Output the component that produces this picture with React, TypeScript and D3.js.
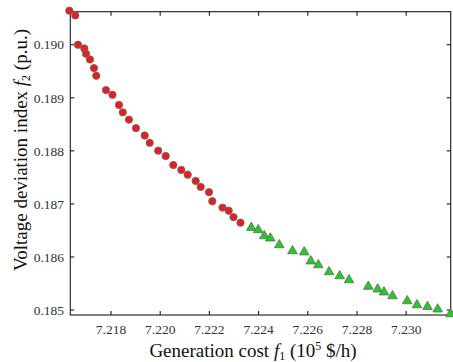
import React from "react";
import * as d3 from "d3";

const redX = [7.216305, 7.216549, 7.216659, 7.216915, 7.216984, 7.217146, 7.217309, 7.217402, 7.217797, 7.218061, 7.218325, 7.21848, 7.218732, 7.219016, 7.21937, 7.219573, 7.219919, 7.220224, 7.220533, 7.220858, 7.221118, 7.221443, 7.221646, 7.221984, 7.222118, 7.222533, 7.222785, 7.22298, 7.223264];
const redY = [0.190642, 0.190553, 0.19, 0.18993, 0.18983, 0.189723, 0.18956, 0.189415, 0.189145, 0.189057, 0.188864, 0.188726, 0.188589, 0.188428, 0.188289, 0.188151, 0.188004, 0.187902, 0.187732, 0.18764, 0.187551, 0.187434, 0.187321, 0.187221, 0.187051, 0.18693, 0.186872, 0.186751, 0.186647];
const greenX = [7.223703, 7.223984, 7.224232, 7.224476, 7.224841, 7.225378, 7.225854, 7.226122, 7.226427, 7.226862, 7.227297, 7.227675, 7.228459, 7.228841, 7.229098, 7.229443, 7.230041, 7.230439, 7.230866, 7.23128, 7.231801];
const greenY = [0.186553, 0.186509, 0.186396, 0.186353, 0.186226, 0.186113, 0.186091, 0.185921, 0.185849, 0.185717, 0.185642, 0.185566, 0.185443, 0.185392, 0.185336, 0.185264, 0.18517, 0.185094, 0.185062, 0.185015, 0.184925];
const xTicks = [7.218, 7.22, 7.222, 7.224, 7.226, 7.228, 7.23];
const yTicks = [0.185, 0.186, 0.187, 0.188, 0.189, 0.19];

const L = 70.3, R = 450.7, T = 11.7, B = 315;
const font = "'Liberation Serif', 'Times New Roman', serif";

export default function App() {
  const x = d3.scaleLinear().domain([7.216346, 7.231809]).range([L, R]);
  const y = d3.scaleLinear().domain([0.184906, 0.190623]).range([B, T]);
  const tri = d3.symbol().type(d3.symbolTriangle).size(40)();
  const tl = 4;
  return (
    <svg width={453} height={362} style={{ position: "absolute", left: 0, top: 0, background: "#fff" }}>
      <rect x={L} y={T} width={R - L} height={B - T} fill="none" stroke="#1a1a1a" strokeWidth={1.1} />
      {xTicks.map((t) => (
        <g key={"x" + t}>
          <line x1={x(t)} x2={x(t)} y1={B} y2={B - tl} stroke="#1a1a1a" strokeWidth={1.1} />
          <line x1={x(t)} x2={x(t)} y1={T} y2={T + tl} stroke="#1a1a1a" strokeWidth={1.1} />
          <text x={x(t)} y={334} textAnchor="middle" fontFamily={font} fontSize={13.5} fill="#333">
            {d3.format(".3f")(t)}
          </text>
        </g>
      ))}
      {yTicks.map((t) => (
        <g key={"y" + t}>
          <line x1={L} x2={L + tl} y1={y(t)} y2={y(t)} stroke="#1a1a1a" strokeWidth={1.1} />
          <line x1={R} x2={R - tl} y1={y(t)} y2={y(t)} stroke="#1a1a1a" strokeWidth={1.1} />
          <text x={64} y={y(t)} dy="0.35em" textAnchor="end" fontFamily={font} fontSize={13.5} fill="#333">
            {d3.format(".3f")(t)}
          </text>
        </g>
      ))}
      <text x={253} y={357} textAnchor="middle" fontFamily={font} fontSize={19} fill="#111">
        Generation cost <tspan fontStyle="italic">f</tspan>
        <tspan fontSize={12} dy={3}>1</tspan>
        <tspan dy={-3}> (10</tspan>
        <tspan fontSize={12} dy={-7}>5</tspan>
        <tspan dy={7}> $/h)</tspan>
      </text>
      <text transform="translate(27,150) rotate(-90)" textAnchor="middle" fontFamily={font} fontSize={19} fill="#111">
        Voltage deviation index <tspan fontStyle="italic">f</tspan>
        <tspan fontSize={12} dy={3}>2</tspan>
        <tspan dy={-3}> (p.u.)</tspan>
      </text>
      {redX.map((v, i) => (
        <circle key={"r" + i} cx={x(v)} cy={y(redY[i])} r={3.7} fill="#e3201f" stroke="#6b6b6b" strokeWidth={0.8} />
      ))}
      {greenX.map((v, i) => (
        <path key={"g" + i} d={tri || ""} transform={`translate(${x(v)},${y(greenY[i])})`} fill="#22cc22" stroke="#666" strokeWidth={0.8} />
      ))}
    </svg>
  );
}
